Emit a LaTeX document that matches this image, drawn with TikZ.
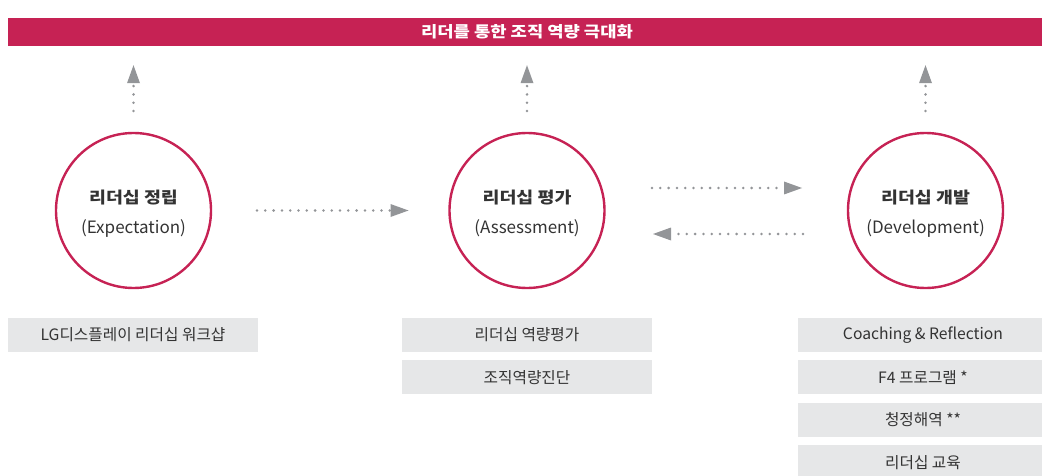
\documentclass[tikz,border=0pt]{standalone}
\usepackage{fontspec}
\setmainfont{Noto Sans CJK KR}
\newfontfamily\widehangul[FakeStretch=1.15]{Noto Sans CJK KR}
\usetikzlibrary{arrows.meta,positioning}
\definecolor{lgred}{HTML}{C62254}
\definecolor{boxgray}{HTML}{E6E7E8}
\definecolor{arrowgray}{HTML}{939598}
\definecolor{textgray}{HTML}{333333}
\tikzset{
  stage/.style={circle,draw=lgred,line width=2.4pt,minimum size=155pt,outer sep=0pt,
    align=center,text=textgray,font=\fontsize{17}{30}\selectfont},
  toolbox/.style={fill=boxgray,minimum width=250pt,minimum height=34pt,inner sep=0pt,
    text=textgray,font=\fontsize{15.7}{16}\selectfont},
  flow/.style={arrowgray,line width=2.8pt,line cap=round,dash pattern=on 0pt off 8.3pt,
    -{Triangle[length=18pt,width=13pt,line width=0pt]}},
}
\newcommand{\stagename}[1]{\rule{0pt}{20pt}{\widehangul\fontsize{16}{30}\selectfont\bfseries #1}}
\begin{document}
\begin{tikzpicture}[x=1pt,y=-1pt]
  \useasboundingbox (0,0) rectangle (1042,476);
  \node[fill=lgred,minimum width=1038pt,minimum height=28pt,inner sep=0pt,text=white,
    font=\widehangul\fontsize{15.4}{16}\selectfont\bfseries] (goal) at (527,32) {리더를 통한 조직 역량 극대화};
  \node[stage] (expect) at (133.5,210.5) {\stagename{리더십 정립}\\(Expectation)};
  \node[stage] (assess) at (527,210.5) {\stagename{리더십 평가}\\(Assessment)};
  \node[stage] (develop) at (925.5,210.5) {\stagename{리더십 개발}\\(Development)};
  \draw[flow,shorten <=22pt,shorten >=19pt] (expect.north) -- (expect |- goal.south);
  \draw[flow,shorten <=22pt,shorten >=19pt] (assess.north) -- (assess |- goal.south);
  \draw[flow,shorten <=22pt,shorten >=19pt] (develop.north) -- (develop |- goal.south);
  \draw[flow,shorten <=46pt,shorten >=41pt] (expect) -- (assess);
  \draw[flow,shorten <=47.5pt,shorten >=46pt] ([yshift=22.5pt]assess.east) -- ([yshift=22.5pt]develop.west);
  \draw[flow,shorten <=45pt,shorten >=48.5pt] ([yshift=-23.5pt]develop.west) -- ([yshift=-23.5pt]assess.east);
  \node[toolbox] (workshop) at (133,335) {LG디스플레이 리더십 워크샵};
  \node[toolbox] (evaluate) at (527,335) {리더십 역량평가};
  \node[toolbox,below=8pt of evaluate] (diagnose) {조직역량진단};
  \node[toolbox] (coaching) at (923,335) {Coaching \& Reflection};
  \node[toolbox,below=8pt of coaching] (ffour) {F4 프로그램 *};
  \node[toolbox,below=8pt of ffour] (listen) {청정해역 **};
  \node[toolbox,below=8pt of listen] (course) {리더십 교육};
\end{tikzpicture}
\end{document}
